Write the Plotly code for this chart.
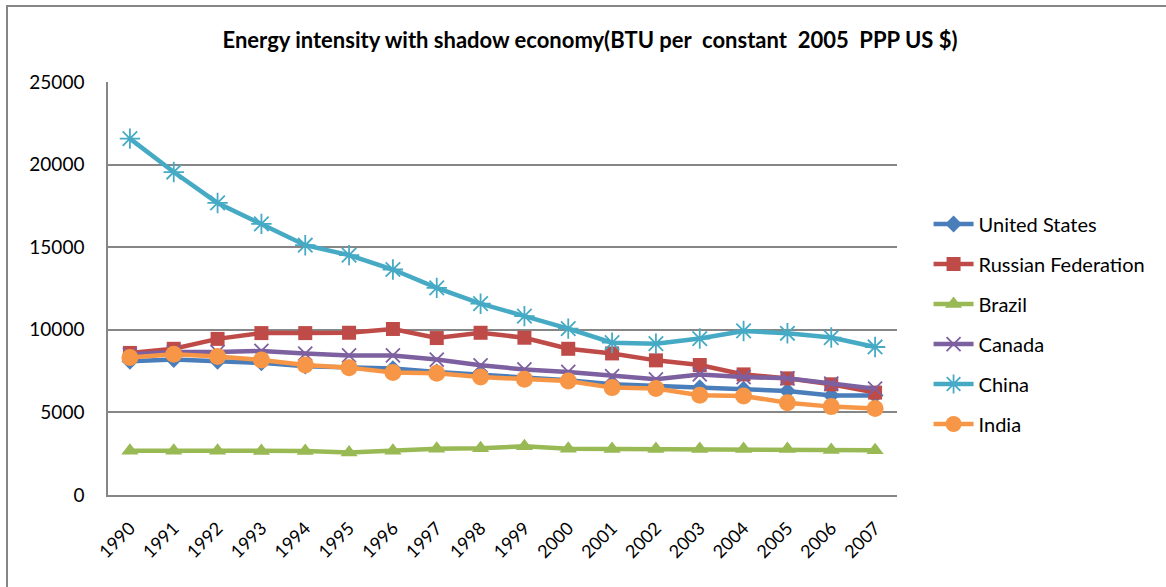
import plotly.graph_objects as go

years = [str(y) for y in range(1990, 2008)]

united_states = [8100, 8200, 8100, 8000, 7800, 7700, 7650, 7450, 7300, 7100, 6950, 6700, 6600, 6500, 6400, 6300, 6030, 6030]
russia = [8600, 8850, 9450, 9800, 9800, 9820, 10050, 9500, 9820, 9520, 8850, 8570, 8150, 7870, 7300, 7060, 6700, 6200]
brazil = [2680, 2680, 2680, 2670, 2670, 2580, 2680, 2800, 2830, 2950, 2800, 2790, 2790, 2790, 2790, 2790, 2720, 2710]
canada = [8500, 8650, 8650, 8720, 8560, 8450, 8450, 8200, 7850, 7600, 7450, 7200, 7000, 7300, 7140, 7060, 6740, 6440]
china = [21570, 19550, 17680, 16410, 15120, 14520, 13650, 12540, 11580, 10830, 10070, 9220, 9160, 9470, 9930, 9790, 9530, 8960]
india = [8320, 8520, 8380, 8170, 7870, 7710, 7410, 7370, 7140, 7000, 6900, 6500, 6440, 6040, 5990, 5590, 5350, 5230]

series = [
    ("United States", united_states, "#4A7EBB", "diamond", 13),
    ("Russian Federation", russia, "#BE4B48", "square", 14),
    ("Brazil", brazil, "#98B954", "triangle-up", 15),
    ("Canada", canada, "#7D60A0", "x-thin-open", 14),
    ("China", china, "#46AAC5", "asterisk-open", 17),
    ("India", india, "#F79646", "circle", 17),
]

fig = go.Figure()
for i, (name, vals, color, sym, size) in enumerate(series):
    thin = sym.endswith("-open")
    fig.add_trace(go.Scatter(
        x=years, y=vals, name=name, mode="lines+markers",
        legendgroup=f"g{i}",
        line=dict(color=color, width=4.5),
        marker=dict(symbol=sym, size=size, color=color,
                    line=dict(color=color, width=1.8 if thin else 0)),
    ))

font_family = "Lato, 'Open Sans', sans-serif"

fig.update_layout(
    width=1166, height=587,
    margin=dict(l=108, r=269, t=82, b=92),
    paper_bgcolor="white", plot_bgcolor="white",
    font=dict(family=font_family, size=19, color="black"),
    title=dict(
        text="<b>Energy intensity with shadow economy(BTU per  constant  2005  PPP US $)</b>",
        x=0.506, xanchor="center", y=0.932, yanchor="middle",
        font=dict(family=font_family, size=22, color="black"),
    ),
    showlegend=True,
    legend=dict(
        x=1.04, xanchor="left", y=0.414, yanchor="middle",
        traceorder="grouped", tracegroupgap=11,
        font=dict(family=font_family, size=20, color="black"),
        bgcolor="rgba(0,0,0,0)", itemwidth=40,
    ),
    xaxis=dict(
        type="category", range=[-0.5, 17.5], tickangle=-45, showgrid=False,
        showline=True, linecolor="#868686", linewidth=1.5,
        ticks="outside", ticklen=14, tickcolor="rgba(0,0,0,0)",
        tickfont=dict(size=18), automargin=False,
    ),
    yaxis=dict(
        range=[0, 25000], dtick=5000, tick0=0, tickformat="d",
        showgrid=True, gridcolor="#868686", gridwidth=1.5,
        showline=True, linecolor="#868686", linewidth=1.5,
        zeroline=False, ticks="outside", ticklen=18, tickcolor="rgba(0,0,0,0)",
        tickfont=dict(size=19), automargin=False,
    ),
    shapes=[dict(
        type="rect", xref="paper", yref="paper",
        x0=(7 - 108) / 789, x1=(1180 - 108) / 789,
        y0=-(600 - 495) / 413, y1=1 + (82 - 6) / 413,
        line=dict(color="#868686", width=2), fillcolor="rgba(0,0,0,0)", layer="below",
    )],
)

fig.write_html("out.html")
